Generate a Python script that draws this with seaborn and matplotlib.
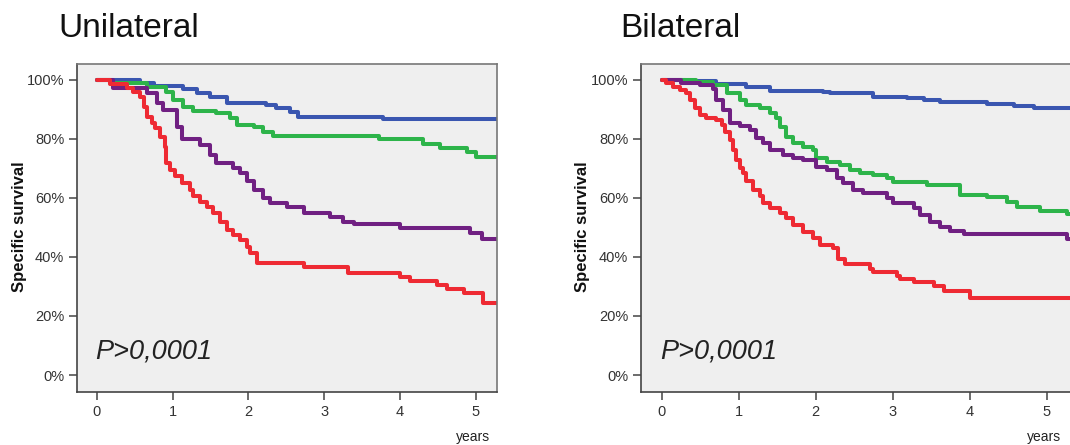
import matplotlib
matplotlib.use("Agg")
import matplotlib.pyplot as plt
import numpy as np
import pandas as pd
import seaborn as sns

# ---------------- data ----------------
groups = ["blue", "green", "purple", "red"]
colors = {"blue": "#3a56b0", "green": "#2db44a", "purple": "#702082", "red": "#ee2a33"}

# Unilateral
uni_blue_t = [0, 0.57, 0.75, 1.14, 1.32, 1.49, 1.72, 2.24, 2.37, 2.55, 2.66, 3.78]
uni_blue_s = [100, 98.9, 98.0, 96.8, 95.5, 94.3, 92.3, 91.5, 90.4, 89.0, 87.6, 86.9]
uni_green_t = [0, 0.18, 0.66, 0.92, 1.01, 1.14, 1.27, 1.58, 1.76, 1.85, 2.07, 2.20, 2.33, 3.72, 4.31, 4.53, 4.88, 5.01]
uni_green_s = [100, 98.9, 97.5, 96.0, 93.2, 90.9, 89.5, 88.7, 87.0, 84.7, 84.2, 82.5, 81.0, 79.9, 78.2, 77.1, 75.7, 74.0]
uni_purple_t = [0, 0.22, 0.66, 0.79, 0.88, 1.06, 1.12, 1.36, 1.49, 1.58, 1.80, 1.89, 1.98, 2.07, 2.20, 2.29, 2.51, 2.73, 3.08, 3.25, 3.39, 4.00, 4.92, 5.08]
uni_purple_s = [100, 97.4, 95.5, 92.1, 89.8, 84.1, 79.9, 78.0, 74.6, 71.8, 70.1, 68.4, 65.6, 62.7, 59.9, 58.4, 57.1, 55.0, 53.7, 52.0, 51.2, 49.7, 48.0, 46.0]
uni_red_t = [0, 0.18, 0.40, 0.48, 0.57, 0.62, 0.66, 0.73, 0.77, 0.84, 0.90, 0.92, 0.97, 1.03, 1.12, 1.23, 1.27, 1.36, 1.45, 1.54,
             1.63, 1.72, 1.80, 1.89, 1.98, 2.02, 2.11, 2.73, 3.32, 4.00, 4.13, 4.49, 4.62, 4.84, 5.10]
uni_red_s = [100, 98.5, 97.2, 96.0, 94.3, 90.9, 87.5, 85.5, 83.6, 80.8, 77.4, 71.8, 69.5, 67.3, 65.0, 62.7, 60.5, 58.8, 57.1, 54.9,
             52.0, 49.2, 47.5, 45.8, 43.5, 41.2, 37.9, 36.5, 34.5, 33.1, 32.0, 30.5, 29.0, 27.7, 24.5]

# Bilateral
bi_blue_t = [0, 0.30, 0.71, 1.10, 1.41, 2.10, 2.19, 2.75, 3.18, 3.40, 3.61, 4.22, 4.57, 4.83]
bi_blue_s = [100, 99.5, 98.5, 97.5, 96.4, 96.0, 95.5, 94.3, 93.8, 93.2, 92.4, 91.9, 91.2, 90.6]
bi_green_t = [0, 0.45, 0.67, 0.85, 1.02, 1.10, 1.28, 1.41, 1.49, 1.54, 1.62, 1.71, 1.84, 1.97, 2.01, 2.14, 2.32, 2.45, 2.58,
              2.75, 2.92, 3.01, 3.44, 3.87, 4.22, 4.48, 4.61, 4.91, 5.26]
bi_green_s = [100, 99.2, 98.3, 95.5, 93.2, 91.5, 90.4, 88.7, 87.0, 84.2, 80.8, 78.5, 77.4, 76.3, 73.4, 72.3, 71.2, 69.5, 68.4,
              67.8, 66.7, 65.5, 64.5, 61.0, 60.2, 58.5, 56.8, 55.7, 54.6]
bi_purple_t = [0, 0.25, 0.50, 0.67, 0.71, 0.80, 0.89, 1.02, 1.15, 1.23, 1.32, 1.41, 1.58, 1.71, 1.84, 2.01, 2.14, 2.27, 2.36, 2.49,
               2.62, 2.92, 3.01, 3.27, 3.35, 3.48, 3.61, 3.74, 3.92, 5.26]
bi_purple_s = [100, 99.0, 98.3, 97.0, 93.2, 89.8, 85.3, 84.4, 83.0, 80.2, 78.5, 76.3, 74.6, 73.4, 72.9, 70.6, 69.5, 66.7, 65.0, 62.7,
               61.6, 59.9, 58.2, 56.5, 54.2, 52.0, 50.3, 48.9, 47.8, 46.1]
bi_red_t = [0, 0.06, 0.15, 0.24, 0.32, 0.37, 0.43, 0.50, 0.58, 0.71, 0.78, 0.82, 0.89, 0.93, 0.97, 1.02, 1.06, 1.10, 1.19, 1.28,
            1.32, 1.41, 1.54, 1.62, 1.71, 1.84, 1.97, 2.06, 2.23, 2.29, 2.38, 2.71, 2.75, 3.05, 3.10, 3.27, 3.53, 3.66, 4.00]
bi_red_s = [100, 98.9, 97.7, 96.6, 95.5, 93.2, 90.4, 88.1, 87.0, 86.4, 84.7, 82.5, 79.7, 76.3, 72.9, 70.1, 68.4, 65.6, 62.7, 60.5,
            58.2, 56.5, 54.8, 53.1, 50.8, 48.6, 46.4, 44.1, 43.0, 39.3, 37.6, 35.9, 35.0, 33.7, 32.5, 31.4, 30.3, 28.6, 26.0]

panel_titles = ["Unilateral", "Bilateral"]
x_ticks = [0, 1, 2, 3, 4, 5]
y_ticks = [0, 20, 40, 60, 80, 100]
y_ticklabels = ["0%", "20%", "40%", "60%", "80%", "100%"]
p_text = "P>0,0001"
y_label = "Specific survival"
x_label = "years"

# ---------------- style ----------------
sns.set_style("ticks", {"axes.facecolor": "#efefef"})
plt.rcParams["font.family"] = ["Liberation Sans", "DejaVu Sans"]

W, H = 1070, 445
fig = plt.figure(figsize=(W / 100, H / 100), dpi=100)


def frac_box(left_px, right_px, top_px, bottom_px):
    return [left_px / W, 1 - bottom_px / H, (right_px - left_px) / W, (bottom_px - top_px) / H]


ax1 = fig.add_axes(frac_box(76.7, 497, 64, 392))
ax2 = fig.add_axes(frac_box(640.7, 1080, 64, 392))
xlims = [(-0.264, 5.281), (-0.273, 5.432)]
ylim = (-5.76, 105.4)


def make_df(series, x_end):
    rows = []
    for g, (t, s) in zip(groups, series):
        tt = list(t) + [x_end]
        ss = list(s) + [s[-1]]
        for a, b in zip(tt, ss):
            rows.append({"years": a, "survival": b, "group": g})
    return pd.DataFrame(rows)


data_uni = [(uni_blue_t, uni_blue_s), (uni_green_t, uni_green_s),
            (uni_purple_t, uni_purple_s), (uni_red_t, uni_red_s)]
data_bi = [(bi_blue_t, bi_blue_s), (bi_green_t, bi_green_s),
           (bi_purple_t, bi_purple_s), (bi_red_t, bi_red_s)]

for ax, dat, xl, title in zip([ax1, ax2], [data_uni, data_bi], xlims, panel_titles):
    df = make_df(dat, xl[1])
    sns.lineplot(data=df, x="years", y="survival", hue="group", palette=colors,
                 estimator=None, sort=False, drawstyle="steps-post", linewidth=2.9,
                 legend=False, ax=ax)
    ax.set_xlim(*xl)
    ax.set_ylim(*ylim)
    ax.set_xticks(x_ticks)
    ax.set_xticklabels([str(v) for v in x_ticks])
    ax.set_yticks(y_ticks)
    ax.set_yticklabels(y_ticklabels)
    ax.set_xlabel("")
    ax.set_ylabel("")
    ax.tick_params(axis="both", direction="out", length=6, width=1.1, color="#444444",
                   labelsize=10.5, labelcolor="#333333", pad=3)
    for side in ["left", "bottom", "right", "top"]:
        ax.spines[side].set_visible(True)
        ax.spines[side].set_color("#444444")
        ax.spines[side].set_linewidth(1.2)
    ax.spines["top"].set_color("#777777")
    ax.spines["right"].set_color("#777777")
    ax.text(-0.02, 5.7, p_text, fontsize=19.5, style="italic", color="#222222",
            ha="left", va="baseline")

# titles
fig.text(58 / W, 1 - 36.7 / H, panel_titles[0], fontsize=24, color="#111111", ha="left", va="baseline")
fig.text(620 / W, 1 - 37.3 / H, panel_titles[1], fontsize=24, color="#111111", ha="left", va="baseline")

# y labels
fig.text(20 / W, 1 - 227 / H, y_label, rotation=90, fontsize=12, fontweight="bold",
         color="#111111", ha="center", va="center")
fig.text(583 / W, 1 - 227 / H, y_label, rotation=90, fontsize=12, fontweight="bold",
         color="#111111", ha="center", va="center")

# x labels ("years")
fig.text(473 / W, 1 - 437 / H, x_label, fontsize=10, color="#222222", ha="center", va="center")
fig.text(1044 / W, 1 - 437 / H, x_label, fontsize=10, color="#222222", ha="center", va="center")

fig.savefig("out.png", dpi=100)
